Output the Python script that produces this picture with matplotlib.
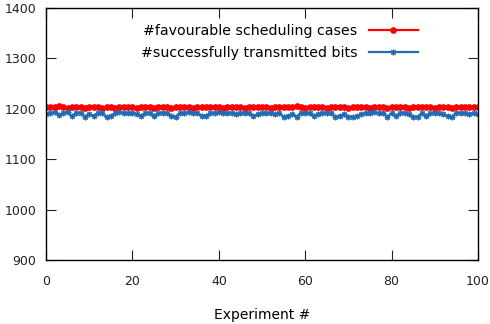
import numpy as np
import matplotlib
matplotlib.use('Agg')
from matplotlib import pyplot as plt

# experiment index 0..100
experiments = list(range(101))

# #favourable scheduling cases
favourable = [1203, 1204, 1203, 1205, 1204, 1202, 1204, 1203, 1204, 1202,
              1203, 1204, 1203, 1202, 1204, 1203, 1202, 1204, 1203, 1203,
              1204, 1202, 1203, 1204, 1203, 1202, 1203, 1204, 1203, 1202,
              1204, 1203, 1203, 1204, 1202, 1203, 1204, 1203, 1203, 1204,
              1203, 1202, 1204, 1203, 1204, 1203, 1202, 1203, 1204, 1203,
              1203, 1204, 1202, 1203, 1204, 1203, 1203, 1204, 1205, 1203,
              1202, 1204, 1203, 1203, 1204, 1202, 1203, 1204, 1203, 1203,
              1202, 1204, 1203, 1204, 1203, 1202, 1203, 1204, 1203, 1202,
              1204, 1203, 1203, 1204, 1202, 1203, 1204, 1203, 1203, 1204,
              1202, 1203, 1204, 1203, 1202, 1203, 1204, 1203, 1203, 1204,
              1203]

# #successfully transmitted bits
transmitted = [1190, 1192, 1193, 1187, 1192, 1193, 1185, 1191, 1192, 1184,
               1190, 1186, 1192, 1191, 1184, 1186, 1191, 1193, 1192, 1191,
               1192, 1190, 1185, 1191, 1192, 1185, 1191, 1192, 1191, 1186,
               1184, 1191, 1192, 1193, 1192, 1191, 1186, 1185, 1191, 1192,
               1193, 1192, 1191, 1192, 1190, 1191, 1192, 1191, 1185, 1190,
               1191, 1192, 1191, 1190, 1191, 1184, 1185, 1190, 1184, 1191,
               1192, 1191, 1185, 1190, 1191, 1192, 1191, 1184, 1185, 1190,
               1184, 1184, 1185, 1190, 1191, 1192, 1193, 1191, 1192, 1184,
               1191, 1185, 1191, 1192, 1190, 1183, 1184, 1191, 1185, 1191,
               1192, 1191, 1190, 1185, 1184, 1191, 1192, 1191, 1190, 1191,
               1189]

plt.rcParams['font.family'] = ['DejaVu Sans']
plt.rcParams['font.size'] = 9

fig = plt.figure(figsize=(4.9, 3.24), dpi=100)
ax = fig.add_axes([0.094, 0.1975, 0.8815, 0.7775])

ax.plot(experiments, favourable, color='#ff0000', lw=1.6, marker='o', ms=3.8,
        label='#favourable scheduling cases')
ax.plot(experiments, transmitted, color='#1f6cb4', lw=1.6, marker=(8, 2, 0), ms=4,
        mew=0.8, label='#successfully transmitted bits')

ax.set_xlim(0, 100)
ax.set_ylim(900, 1400)
ax.set_xticks(range(0, 101, 20))
ax.set_yticks(range(900, 1401, 100))
ax.tick_params(direction='in', length=7, width=0.8, top=True, right=True,
               labelsize=9, colors='#222222')
ax.tick_params(axis='x', pad=11)
ax.tick_params(axis='y', pad=7)
for s in ax.spines.values():
    s.set_linewidth(1.0)

ax.set_xlabel('Experiment #', fontsize=10, labelpad=14)

leg = ax.legend(loc='upper right', bbox_to_anchor=(0.891, 0.987), frameon=False,
                markerfirst=False, handlelength=3.5, handletextpad=0.8,
                labelspacing=0.55, fontsize=10.2)

plt.savefig('out.png', dpi=100)
